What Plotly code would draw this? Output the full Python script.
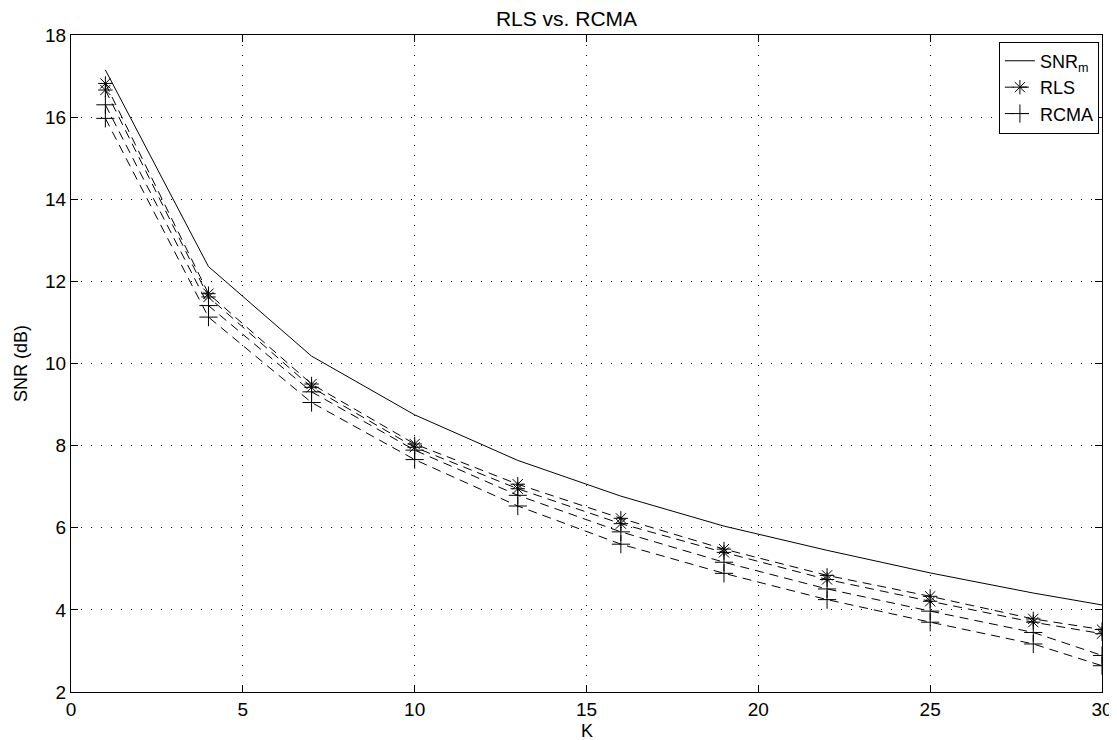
import plotly.graph_objects as go

# number of users K
k_values = [1, 4, 7, 10, 13, 16, 19, 22, 25, 28, 30]

# SNR (dB)
snr_m = [17.15, 12.36, 10.18, 8.75, 7.64, 6.77, 6.04, 5.45, 4.90, 4.41, 4.12]
rls_a = [16.82, 11.70, 9.50, 8.04, 7.06, 6.23, 5.48, 4.84, 4.33, 3.78, 3.52]
rls_b = [16.66, 11.62, 9.42, 7.96, 6.95, 6.10, 5.40, 4.74, 4.21, 3.70, 3.42]
rcma_a = [16.30, 11.41, 9.31, 7.89, 6.79, 5.90, 5.16, 4.51, 3.97, 3.45, 2.89]
rcma_b = [15.97, 11.13, 9.05, 7.66, 6.53, 5.60, 4.89, 4.25, 3.70, 3.17, 2.64]

x_ticks = [0, 5, 10, 15, 20, 25, 30]
y_ticks = [2, 4, 6, 8, 10, 12, 14, 16, 18]

FONT = "Liberation Sans, Arial, Helvetica, sans-serif"
DASH = "9px,6px"

fig = go.Figure()

fig.add_trace(
    go.Scatter(x=k_values, y=snr_m, mode="lines", name="SNR<sub>m</sub>",
               line=dict(color="black", width=1))
)

for i, ys in enumerate([rls_a, rls_b]):
    fig.add_trace(
        go.Scatter(
            x=k_values, y=ys, mode="lines+markers", name="RLS",
            legendgroup="rls", showlegend=(i == 0),
            line=dict(color="black", width=1, dash=DASH),
            marker=dict(symbol="asterisk-open", size=12, color="black",
                        line=dict(color="black", width=1)),
        )
    )

for i, ys in enumerate([rcma_a, rcma_b]):
    fig.add_trace(
        go.Scatter(
            x=k_values, y=ys, mode="lines+markers", name="RCMA",
            legendgroup="rcma", showlegend=(i == 0),
            line=dict(color="black", width=1, dash=DASH),
            marker=dict(symbol="cross-thin-open", size=13, color="black",
                        line=dict(color="black", width=1)),
        )
    )

axis_common = dict(
    showline=True, linecolor="black", linewidth=1, mirror="ticks",
    ticks="inside", ticklen=7, tickcolor="black",
    showgrid=True, gridcolor="black", gridwidth=1, griddash="1px,9px",
    zeroline=False, tickfont=dict(family=FONT, size=19, color="black"),
)

fig.update_xaxes(range=[0, 30], tickvals=x_ticks, **axis_common)
fig.update_yaxes(
    range=[2, 18], tickvals=y_ticks,
    title=dict(text="SNR (dB)", font=dict(family=FONT, size=18, color="black"), standoff=12),
    **axis_common,
)

# x-axis label kept close under the tick labels, as in the reference
fig.add_annotation(
    text="K", xref="paper", yref="paper", x=0.5, y=-0.059,
    xanchor="center", yanchor="middle", showarrow=False,
    font=dict(family=FONT, size=18, color="black"),
)

fig.update_layout(
    width=1117, height=740,
    margin=dict(l=63, r=20, t=27, b=56),
    paper_bgcolor="white", plot_bgcolor="white",
    font=dict(family=FONT, size=18, color="black"),
    title=dict(text="RLS vs. RCMA", x=0.5, xanchor="center", y=1, yanchor="top",
               pad=dict(t=3), font=dict(family=FONT, size=21, color="black")),
    legend=dict(
        x=0.997, y=0.99, xanchor="right", yanchor="top",
        bgcolor="white", bordercolor="black", borderwidth=1,
        font=dict(family=FONT, size=18, color="black"),
        tracegroupgap=0, itemwidth=30,
    ),
    showlegend=True,
)

fig.write_html("out.html")
